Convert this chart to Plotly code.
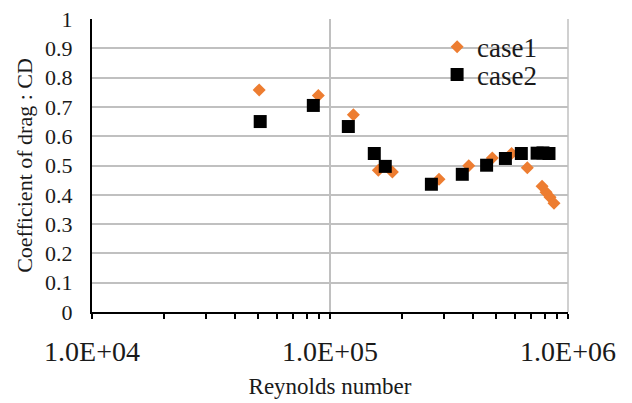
import plotly.graph_objects as go

# Data
re_case1 = [50400, 89300, 125400, 159600, 182800, 287000, 382800, 480700, 579500,
            674800, 777900, 808800, 840500, 873600]
cd_case1 = [0.758, 0.739, 0.673, 0.484, 0.478, 0.453, 0.499, 0.526, 0.541,
            0.492, 0.429, 0.409, 0.392, 0.371]

re_case2 = [50900, 85100, 119400, 153500, 170700, 266700, 359600, 455000, 545700,
            636600, 741600, 785000, 832000]
cd_case2 = [0.650, 0.705, 0.633, 0.541, 0.497, 0.436, 0.470, 0.501, 0.524,
            0.541, 0.542, 0.543, 0.541]

x_tickvals = [1e4, 1e5, 1e6]
x_ticktext = ["1.0E+04", "1.0E+05", "1.0E+06"]
x_minor = [m * 10 ** e for e in (4, 5) for m in range(2, 10)]

FONT = "Liberation Serif, Times New Roman, serif"

fig = go.Figure()
fig.add_trace(go.Scatter(
    x=re_case1, y=cd_case1, mode="markers", name="case1", legend="legend",
    marker=dict(symbol="diamond", size=10, color="#ED7D31"),
))
fig.add_trace(go.Scatter(
    x=re_case2, y=cd_case2, mode="markers", name="case2", legend="legend2",
    marker=dict(symbol="square", size=13, color="#000000"),
))

leg_common = dict(xanchor="left", yanchor="middle", bgcolor="rgba(0,0,0,0)",
                  font=dict(size=27, family=FONT, color="#1a1a1a"))

fig.update_layout(
    width=632, height=403,
    margin=dict(l=92, r=64, t=19, b=91),
    paper_bgcolor="white", plot_bgcolor="white",
    font=dict(family=FONT, color="#1a1a1a"),
    showlegend=True,
    legend=dict(x=0.725, y=0.904, **leg_common),
    legend2=dict(x=0.725, y=0.809, **leg_common),
    shapes=[dict(type="line", xref="paper", yref="paper", x0=1, x1=1, y0=0, y1=1,
                 line=dict(color="#C0C0C0", width=1.5), layer="below")],
)

fig.update_xaxes(
    type="log", range=[4, 6], automargin=False,
    tickvals=x_tickvals, ticktext=x_ticktext,
    tickfont=dict(size=28, family=FONT),
    ticks="outside", ticklen=5, tickwidth=1.5, tickcolor="black",
    ticklabelstandoff=8,
    minor=dict(tickvals=x_minor, ticks="outside", ticklen=5, tickwidth=1.5,
               tickcolor="black", showgrid=False),
    showgrid=True, gridcolor="#C0C0C0", gridwidth=1.5,
    showline=True, linecolor="black", linewidth=2,
    zeroline=False,
    title=dict(text="Reynolds number", font=dict(size=23, family=FONT), standoff=12),
)
fig.update_yaxes(
    range=[0, 1], dtick=0.1, automargin=False,
    tickfont=dict(size=22, family=FONT),
    ticks="", ticklabelstandoff=13, ticklabeloverflow="allow",
    showgrid=True, gridcolor="#C0C0C0", gridwidth=1.5,
    showline=True, linecolor="black", linewidth=2,
    zeroline=False,
    title=dict(text="Coefficient of drag : CD", font=dict(size=22, family=FONT), standoff=6),
)

fig.write_html("out.html", config={"displayModeBar": False},
               post_script="document.body.style.margin='0';")
